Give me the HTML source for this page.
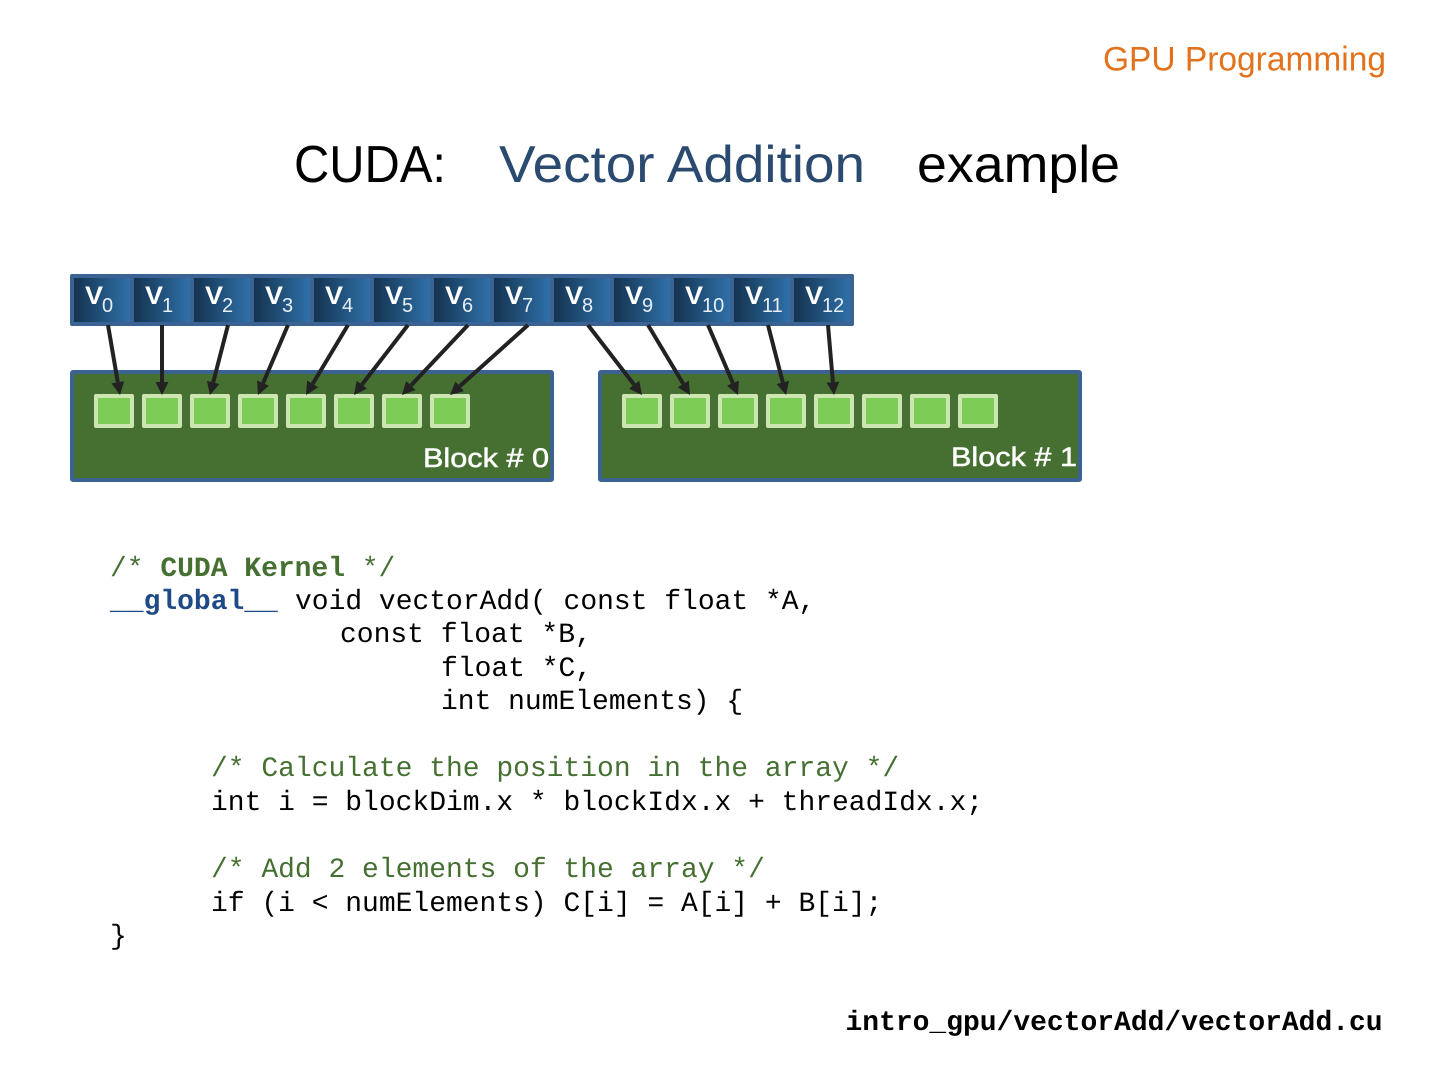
<!DOCTYPE html>
<html>
<head>
<meta charset="utf-8">
<style>
html,body{margin:0;padding:0;background:#fff;width:1440px;height:1080px;overflow:hidden}
svg{display:block}
text{font-family:"Liberation Sans",sans-serif;white-space:pre}
.m{font-family:"Liberation Mono",monospace;font-size:27.97px;fill:#000;text-rendering:geometricPrecision}
.c{fill:#457032}
.v{font-weight:bold;font-size:25px;fill:#fff}
.s{font-size:20px;fill:#e8eef5}
.a{stroke:#222;stroke-width:4;fill:none;marker-end:url(#ah)}
.q{fill:#7dcc55;stroke:#cde4b3;stroke-width:4;stroke-linejoin:round}
.b{fill:#fff;stroke:#fff;stroke-width:.5}
</style>
</head>
<body>
<svg width="1440" height="1080" viewBox="0 0 1440 1080" xmlns="http://www.w3.org/2000/svg">
<defs>
<linearGradient id="g" x1="0" x2="1" y1="0" y2="0">
<stop offset="0" stop-color="#143350"/>
<stop offset="1" stop-color="#2f70a8"/>
</linearGradient>
<marker id="ah" markerUnits="userSpaceOnUse" markerWidth="16" markerHeight="16" viewBox="0 -8 16 16" refX="0" refY="0" orient="auto">
<polygon points="0,-6.5 13,0 0,6.5" fill="#222"/>
</marker>
</defs>

<text x="1103" y="70.5" font-size="34" fill="#e2721b" textLength="283" lengthAdjust="spacingAndGlyphs">GPU Programming</text>

<text x="294" y="182" font-size="52" fill="#000" textLength="152" lengthAdjust="spacingAndGlyphs">CUDA:</text>
<text x="499" y="182" font-size="52" fill="#2b4a6f" textLength="366" lengthAdjust="spacingAndGlyphs">Vector Addition</text>
<text x="917" y="182" font-size="52" fill="#000" textLength="203" lengthAdjust="spacingAndGlyphs">example</text>

<rect x="70" y="274" width="784" height="52" rx="2" fill="#3a6292"/>
<rect x="74" y="278" width="56" height="44" fill="url(#g)"/>
<rect x="134" y="278" width="56" height="44" fill="url(#g)"/>
<rect x="194" y="278" width="56" height="44" fill="url(#g)"/>
<rect x="254" y="278" width="56" height="44" fill="url(#g)"/>
<rect x="314" y="278" width="56" height="44" fill="url(#g)"/>
<rect x="374" y="278" width="56" height="44" fill="url(#g)"/>
<rect x="434" y="278" width="56" height="44" fill="url(#g)"/>
<rect x="494" y="278" width="56" height="44" fill="url(#g)"/>
<rect x="554" y="278" width="56" height="44" fill="url(#g)"/>
<rect x="614" y="278" width="56" height="44" fill="url(#g)"/>
<rect x="674" y="278" width="56" height="44" fill="url(#g)"/>
<rect x="734" y="278" width="56" height="44" fill="url(#g)"/>
<rect x="794" y="278" width="56" height="44" fill="url(#g)"/>

<g>
<text class="v" x="85" y="304" textLength="18" lengthAdjust="spacingAndGlyphs">V</text><text class="s" x="102" y="312">0</text>
<text class="v" x="145" y="304" textLength="18" lengthAdjust="spacingAndGlyphs">V</text><text class="s" x="162" y="312">1</text>
<text class="v" x="205" y="304" textLength="18" lengthAdjust="spacingAndGlyphs">V</text><text class="s" x="222" y="312">2</text>
<text class="v" x="265" y="304" textLength="18" lengthAdjust="spacingAndGlyphs">V</text><text class="s" x="282" y="312">3</text>
<text class="v" x="325" y="304" textLength="18" lengthAdjust="spacingAndGlyphs">V</text><text class="s" x="342" y="312">4</text>
<text class="v" x="385" y="304" textLength="18" lengthAdjust="spacingAndGlyphs">V</text><text class="s" x="402" y="312">5</text>
<text class="v" x="445" y="304" textLength="18" lengthAdjust="spacingAndGlyphs">V</text><text class="s" x="462" y="312">6</text>
<text class="v" x="505" y="304" textLength="18" lengthAdjust="spacingAndGlyphs">V</text><text class="s" x="522" y="312">7</text>
<text class="v" x="565" y="304" textLength="18" lengthAdjust="spacingAndGlyphs">V</text><text class="s" x="582" y="312">8</text>
<text class="v" x="625" y="304" textLength="18" lengthAdjust="spacingAndGlyphs">V</text><text class="s" x="642" y="312">9</text>
<text class="v" x="685" y="304" textLength="18" lengthAdjust="spacingAndGlyphs">V</text><text class="s" x="702" y="312">10</text>
<text class="v" x="745" y="304" textLength="18" lengthAdjust="spacingAndGlyphs">V</text><text class="s" x="762" y="312">11</text>
<text class="v" x="805" y="304" textLength="18" lengthAdjust="spacingAndGlyphs">V</text><text class="s" x="822" y="312">12</text>
</g>

<rect x="72" y="372" width="480" height="108" rx="1" fill="#457032" stroke="#3c6292" stroke-width="4"/>
<rect x="600" y="372" width="480" height="108" rx="1" fill="#457032" stroke="#3c6292" stroke-width="4"/>

<g>
<rect class="q" x="96" y="396" width="36" height="30"/>
<rect class="q" x="144" y="396" width="36" height="30"/>
<rect class="q" x="192" y="396" width="36" height="30"/>
<rect class="q" x="240" y="396" width="36" height="30"/>
<rect class="q" x="288" y="396" width="36" height="30"/>
<rect class="q" x="336" y="396" width="36" height="30"/>
<rect class="q" x="384" y="396" width="36" height="30"/>
<rect class="q" x="432" y="396" width="36" height="30"/>
<rect class="q" x="624" y="396" width="36" height="30"/>
<rect class="q" x="672" y="396" width="36" height="30"/>
<rect class="q" x="720" y="396" width="36" height="30"/>
<rect class="q" x="768" y="396" width="36" height="30"/>
<rect class="q" x="816" y="396" width="36" height="30"/>
<rect class="q" x="864" y="396" width="36" height="30"/>
<rect class="q" x="912" y="396" width="36" height="30"/>
<rect class="q" x="960" y="396" width="36" height="30"/>
</g>

<text class="b" x="423" y="467" font-size="27" textLength="126" lengthAdjust="spacingAndGlyphs">Block # 0</text>
<text class="b" x="951" y="466" font-size="27" textLength="126" lengthAdjust="spacingAndGlyphs">Block # 1</text>

<g>
<line class="a" x1="108" y1="325" x2="117.8" y2="382.2"/>
<line class="a" x1="162" y1="325" x2="162" y2="382"/>
<line class="a" x1="228" y1="325" x2="213.2" y2="382.4"/>
<line class="a" x1="288" y1="325" x2="263.1" y2="383.1"/>
<line class="a" x1="348" y1="325" x2="312.7" y2="383.9"/>
<line class="a" x1="408" y1="325" x2="361.9" y2="384.7"/>
<line class="a" x1="468" y1="325" x2="410.9" y2="385.5"/>
<line class="a" x1="528" y1="325" x2="459.7" y2="386.3"/>
<line class="a" x1="588" y1="325" x2="634.1" y2="384.7"/>
<line class="a" x1="648" y1="325" x2="683.3" y2="383.9"/>
<line class="a" x1="708" y1="325" x2="732.9" y2="383.1"/>
<line class="a" x1="768" y1="325" x2="782.8" y2="382.4"/>
<line class="a" x1="828" y1="325" x2="832.9" y2="382.1"/>
</g>

<text class="m c" x="110" y="576">/* <tspan font-weight="bold">CUDA Kernel</tspan> */</text>
<text class="m" x="110" y="609"><tspan font-weight="bold" fill="#1f4a85">__global__</tspan></text>
<text class="m" x="295" y="609">void vectorAdd( const float *A,</text>
<text class="m" x="340" y="642">const float *B,</text>
<text class="m" x="441" y="676">float *C,</text>
<text class="m" x="441" y="709">int numElements) {</text>
<text class="m c" x="211" y="776">/* Calculate the position in the array */</text>
<text class="m" x="211" y="810">int i = blockDim.x * blockIdx.x + threadIdx.x;</text>
<text class="m c" x="211" y="877">/* Add 2 elements of the array */</text>
<text class="m" x="211" y="911">if (i &lt; numElements) C[i] = A[i] + B[i];</text>
<text class="m" x="110" y="944">}</text>
<text class="m" x="845.5" y="1030" font-weight="bold">intro_gpu/vectorAdd/vectorAdd.cu</text>
</svg>
</body>
</html>
